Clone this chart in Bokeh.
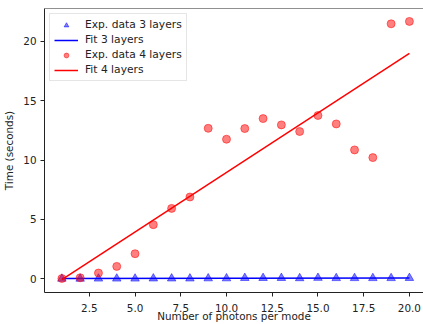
from bokeh.plotting import figure
from bokeh.models import Range1d, FixedTicker, NumeralTickFormatter, Span, Legend, LegendItem
from bokeh.embed import file_html
from bokeh.resources import INLINE

# Data
photons = [1, 2, 3, 4, 5, 6, 7, 8, 9, 10, 11, 12, 13, 14, 15, 16, 17, 18, 19, 20]
time_3_layers = [0.0, 0.0, 0.01, 0.01, 0.01, 0.02, 0.02, 0.02, 0.03, 0.03,
                 0.06, 0.06, 0.06, 0.04, 0.07, 0.05, 0.05, 0.05, 0.05, 0.06]
time_4_layers = [0.02, 0.08, 0.48, 1.04, 2.11, 4.56, 5.93, 6.89, 12.68, 11.76,
                 12.66, 13.50, 12.97, 12.41, 13.76, 13.05, 10.86, 10.21, 21.49, 21.69]
fit_x = [1, 20]
fit_3_layers = [0.03, 0.07]
fit_4_layers = [-0.07, 19.0]
x_ticks = [2.5, 5.0, 7.5, 10.0, 12.5, 15.0, 17.5, 20.0]
y_ticks = [0, 5, 10, 15, 20]
x_label = "Number of photons per mode"
y_label = "Time (seconds)"

FONT = "DejaVu Sans"
FS = "10.4px"

p = figure(width=423, height=324, output_backend="svg", toolbar_location=None,
           x_range=Range1d(0.05, 20.77), y_range=Range1d(-1.16, 22.78),
           min_border_left=44, min_border_top=8, min_border_bottom=32, min_border_right=0)

p.outline_line_color = None
p.add_layout(Span(location=22.78, dimension="width", line_color="#222222", line_width=1))
p.xgrid.visible = False
p.ygrid.visible = False
p.background_fill_color = "white"
p.border_fill_color = "white"

r1 = p.scatter(photons, time_3_layers, marker="triangle", size=8.5,
               fill_color="blue", line_color="blue", fill_alpha=0.5, line_alpha=0.5)
r2 = p.line(fit_x, fit_3_layers, line_color="blue", line_width=1.5)
r3 = p.scatter(photons, time_4_layers, marker="circle", size=8,
               fill_color="red", line_color="red", fill_alpha=0.5, line_alpha=0.5)
r4 = p.line(fit_x, fit_4_layers, line_color="red", line_width=1.5)

for ax in (p.xaxis[0], p.yaxis[0]):
    ax.axis_line_color = "#222222"
    ax.major_tick_line_color = "#222222"
    ax.major_tick_out = 4
    ax.major_tick_in = 0
    ax.minor_tick_line_color = None
    ax.major_label_text_font = FONT
    ax.major_label_text_font_size = FS
    ax.major_label_text_color = "#222222"
    ax.axis_label_text_font = FONT
    ax.axis_label_text_font_size = FS
    ax.axis_label_text_font_style = "normal"
    ax.axis_label_text_color = "#222222"
    ax.major_label_standoff = 4

p.xaxis[0].ticker = FixedTicker(ticks=x_ticks)
p.xaxis[0].formatter = NumeralTickFormatter(format="0.0")
p.yaxis[0].ticker = FixedTicker(ticks=y_ticks)
p.xaxis[0].axis_label = x_label
p.yaxis[0].axis_label = y_label
p.xaxis[0].major_label_standoff = 7
p.xaxis[0].axis_label_standoff = -5
p.yaxis[0].axis_label_standoff = 5

legend = Legend(items=[
    LegendItem(label="Exp. data 3 layers", renderers=[r1]),
    LegendItem(label="Fit 3 layers", renderers=[r2]),
    LegendItem(label="Exp. data 4 layers", renderers=[r3]),
    LegendItem(label="Fit 4 layers", renderers=[r4]),
], location="top_left")
legend.margin = 5
legend.padding = 4
legend.spacing = 2
legend.label_height = 12
legend.glyph_height = 12
legend.glyph_width = 24
legend.label_standoff = 7
legend.label_text_font = FONT
legend.label_text_font_size = "10.7px"
legend.label_text_color = "#222222"
legend.border_line_color = "#cccccc"
legend.border_line_width = 1
legend.background_fill_alpha = 0.8
p.add_layout(legend)

open("out.html", "w").write(file_html(p, INLINE))
